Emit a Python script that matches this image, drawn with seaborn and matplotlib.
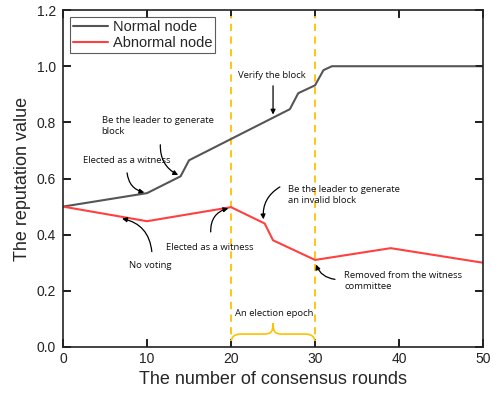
import numpy as np
import pandas as pd
import matplotlib
matplotlib.use("Agg")
import matplotlib.pyplot as plt
from matplotlib.path import Path
from matplotlib.patches import PathPatch
import seaborn as sns

# data
normal_x = [0, 10, 14, 15, 27, 28, 30, 31, 32, 50]
normal_y = [0.50, 0.548, 0.608, 0.665, 0.847, 0.904, 0.932, 0.986, 1.0, 1.0]
abnormal_x = [0, 10, 20, 24, 25, 30, 39, 50]
abnormal_y = [0.50, 0.448, 0.498, 0.44, 0.38, 0.31, 0.352, 0.30]
epoch_lines = [20, 30]
x_ticks = [0, 10, 20, 30, 40, 50]
y_ticks = [0.0, 0.2, 0.4, 0.6, 0.8, 1.0, 1.2]

df = pd.concat([
    pd.DataFrame({"round": normal_x, "rep": normal_y, "node": "Normal node"}),
    pd.DataFrame({"round": abnormal_x, "rep": abnormal_y, "node": "Abnormal node"}),
], ignore_index=True)

sns.set_theme(style="ticks", rc={
    "xtick.direction": "in", "ytick.direction": "in",
    "xtick.top": True, "ytick.right": True,
})
plt.rcParams["font.family"] = ["Liberation Sans", "DejaVu Sans"]

fig = plt.figure(figsize=(4.96, 4.03), dpi=100)
ax = fig.add_axes([0.127, 0.139, 0.847, 0.836])

sns.lineplot(data=df, x="round", y="rep", hue="node", sort=False,
             palette={"Normal node": "#555555", "Abnormal node": "#FF4040"},
             linewidth=1.5, ax=ax)

for xv in epoch_lines:
    ax.axvline(xv, color="#FFC000", ls=(0, (4, 3)), lw=1.3, zorder=1)

ax.set_xlim(0, 50)
ax.set_ylim(0, 1.2)
ax.set_xticks(x_ticks)
ax.set_yticks(y_ticks)
ax.yaxis.set_major_formatter(matplotlib.ticker.FormatStrFormatter("%.1f"))
ax.tick_params(direction="in", top=True, right=True, length=6, width=1.4,
               labelsize=10, colors="#222222")
ax.tick_params(axis="y", pad=5)
for s in ax.spines.values():
    s.set_linewidth(1.2)
    s.set_color("#222222")
ax.set_xlabel("The number of consensus rounds", fontsize=13)
ax.set_ylabel("The reputation value", fontsize=13)

# inward tick marks also as plain line segments, in data units
ax.vlines(x_ticks, 0, 0.022, color="#222222", lw=1.4, zorder=6)
ax.vlines(x_ticks, 1.2 - 0.022, 1.2, color="#222222", lw=1.4, zorder=6)
ax.hlines(y_ticks, 0, 0.8, color="#222222", lw=1.4, zorder=6)
ax.hlines(y_ticks, 50 - 0.8, 50, color="#222222", lw=1.4, zorder=6)

leg = ax.legend(loc="upper left", fontsize=10.5, frameon=True, fancybox=False,
                edgecolor="#333333", handlelength=2.4, borderpad=0.2,
                labelspacing=0.15, handletextpad=0.3, borderaxespad=0.5)
leg.get_frame().set_linewidth(0.8)

# annotations
af = dict(fontsize=6.8, family=["Open Sans", "DejaVu Sans"], color="#111111")
ap = dict(arrowstyle="-|>", color="black", lw=0.9, mutation_scale=7)

def note(text, xy, xytext, rad, tx, ty, ha="left"):
    ax.annotate("", xy=xy, xytext=xytext,
                arrowprops=dict(connectionstyle=f"arc3,rad={rad}", **ap))
    ax.text(tx, ty, text, ha=ha, va="center", linespacing=1.3, **af)

note("Elected as a witness", (10, 0.548), (7.6, 0.63), 0.4, 2.4, 0.663)
note("Be the leader to generate\nblock", (14, 0.608), (11.6, 0.73), 0.35, 4.6, 0.787)
note("Verify the block", (25, 0.818), (25, 0.94), 0.0, 20.8, 0.968)
note("No voting", (6.7, 0.459), (10.6, 0.33), 0.4, 7.8, 0.292)
note("Elected as a witness", (20, 0.496), (17.6, 0.40), -0.45, 12.3, 0.356)
note("Be the leader to generate\nan invalid block", (23.9, 0.445), (26.1, 0.575), 0.35, 26.8, 0.54)
note("Removed from the witness\ncommittee", (30, 0.303), (32.7, 0.24), -0.35, 33.5, 0.236)
ax.text(20.5, 0.118, "An election epoch", ha="left", va="center", **af)

# curly brace from 20 to 30
x0, x1, yb, yt = 20, 30, 0.012, 0.084
ym = 0.046
xm = (x0 + x1) / 2
verts = [(x0, yb), (x0, ym - 0.012), (x0 + 0.3, ym), (x0 + 1.2, ym),
         (xm - 1.2, ym), (xm - 0.3, ym), (xm, ym + 0.005), (xm, yt),
         (xm, ym + 0.005), (xm + 0.3, ym), (xm + 1.2, ym),
         (x1 - 1.2, ym), (x1 - 0.3, ym), (x1, ym - 0.012), (x1, yb)]
codes = [Path.MOVETO, Path.CURVE4, Path.CURVE4, Path.CURVE4,
         Path.LINETO, Path.CURVE4, Path.CURVE4, Path.CURVE4,
         Path.CURVE4, Path.CURVE4, Path.CURVE4,
         Path.LINETO, Path.CURVE4, Path.CURVE4, Path.CURVE4]
ax.add_patch(PathPatch(Path(verts, codes), fill=False, edgecolor="#FFC000", lw=1.2))

fig.savefig("out.png", dpi=100)
